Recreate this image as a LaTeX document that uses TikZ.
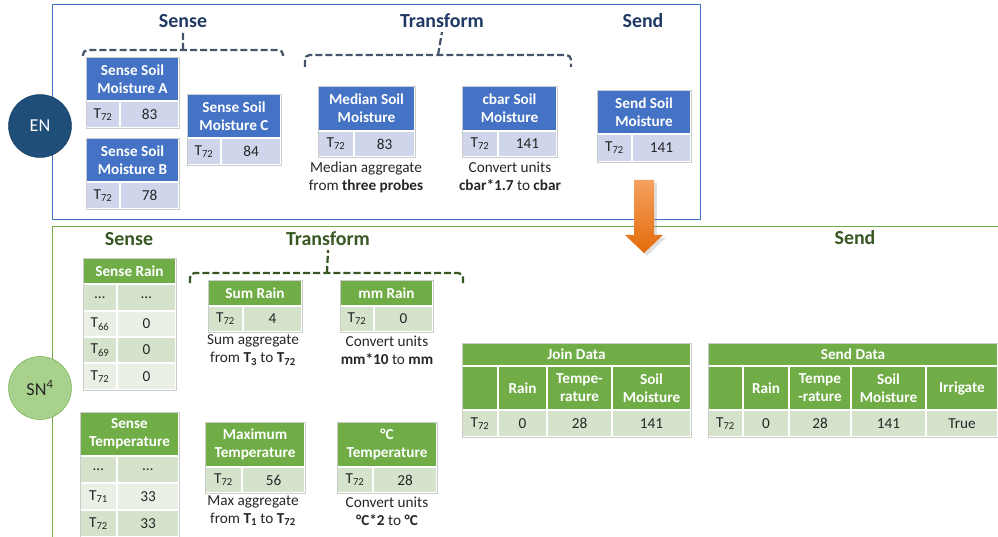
\documentclass[tikz,border=0pt]{standalone}
\usepackage{fontspec}
\setmainfont{Carlito}
\usetikzlibrary{positioning,shadows}
\definecolor{endark}{HTML}{1F4E79}
\definecolor{enframe}{HTML}{4472C4}
\definecolor{bluehead}{HTML}{4472C4}
\definecolor{bluecell}{HTML}{CFD5EA}
\definecolor{bluetitle}{HTML}{203864}
\definecolor{bluebrace}{HTML}{44546A}
\definecolor{greenhead}{HTML}{70AD47}
\definecolor{greendark}{HTML}{D5E3CC}
\definecolor{greenlight}{HTML}{EAF0E6}
\definecolor{greentitle}{HTML}{385723}
\definecolor{greenbrace}{HTML}{375623}
\definecolor{sncircle}{HTML}{A9D18E}
\definecolor{arrowtop}{HTML}{F4A05F}
\definecolor{arrowbot}{HTML}{E36C0A}
\newcommand{\pxu}{0.03cm}
\newcommand{\tcell}[7]{\node[#6, anchor=north west, minimum width={(#4-#2)*\pxu}, minimum height={(#5-#3)*\pxu}] (#1) at (#2,#3) {#7};}

\begin{document}
\begin{tikzpicture}[x=0.03cm, y=-0.03cm,
  cell/.style={rectangle, draw=white, line width=1.2pt, inner sep=0pt, outer sep=0pt, align=center, text=black!85, font=\fontsize{13}{15.4}\selectfont},
  bhead/.style={cell, fill=bluehead, text=white, font=\fontsize{13}{15.4}\selectfont\bfseries},
  bcell/.style={cell, fill=bluecell},
  ghead/.style={cell, fill=greenhead, text=white, font=\fontsize{13}{15.4}\selectfont\bfseries},
  gdark/.style={cell, fill=greendark},
  glight/.style={cell, fill=greenlight},
  tabframe/.style={draw=black!20, line width=0.6pt},
  caption/.style={align=center, text=black!85, font=\fontsize{13}{15.4}\selectfont},
  entitle/.style={text=bluetitle, font=\fontsize{17}{19}\selectfont\bfseries},
  sntitle/.style={text=greentitle, font=\fontsize{17}{19}\selectfont\bfseries},
  brace/.style={dash pattern=on 6pt off 2.6pt, line width=1.9pt, rounded corners=4pt}]

  \useasboundingbox (0,0) rectangle (998,537);

  % frames of the two nodes
  \draw[enframe, line width=0.7pt] (52,4) rectangle (700,219);
  \draw[greenhead, line width=0.7pt] (52,537) |- (998,226);

  \node[circle, draw=endark!80!black, fill=endark, minimum size=1.89cm, text=white, font=\fontsize{15.5}{17}\selectfont] (EN) at (40,126) {EN};
  \node[circle, draw=greenhead, fill=sncircle, minimum size=1.89cm, text=black!85, font=\fontsize{15.5}{17}\selectfont] (SN) at (40,388) {SN\textsuperscript{4}};

  % stage titles
  \node[entitle] (ENsense) at (183,21) {Sense};
  \node[entitle] (ENtrans) at (442,21) {Transform};
  \node[entitle] (ENsend) at (643,21) {Send};
  \node[sntitle] (SNsense) at (129,239) {Sense};
  \node[sntitle] (SNtrans) at (328,239) {Transform};
  \node[sntitle] (SNsend) at (855,238) {Send};

  % braces
  \draw[brace, bluebrace] (83,56) |- (183,50) -| (283,56) (183,50) -- (ENsense.south);
  \draw[brace, bluebrace] (305,67) |- (438,55) -| (571,67) (438,55) -- (ENtrans.south);
  \draw[brace, greenbrace] (190,283) |- (327,273) -| (463,283) (327,273) -- (SNtrans.south);

  % EN tables
  \foreach \n/\xa/\xs/\xb/\ya/\yh/\yb/\hd/\v in {
    SSA/86/120/179/57/101/128/{Sense Soil\\Moisture A}/83,
    SSB/86/120/179/138/182/209/{Sense Soil\\Moisture B}/78,
    SSC/187/221/281/94/138/165/{Sense Soil\\Moisture C}/84,
    MSM/318/354/415/86/131/157/{Median Soil\\Moisture}/83,
    CSM/462/498/557/86/131/157/{cbar Soil\\Moisture}/141,
    SSM/597/632/691/90/134/162/{Send Soil\\Moisture}/141}{
    \tcell{\n}{\xa}{\ya}{\xb}{\yh}{bhead}{\hd}
    \tcell{\n-t}{\xa}{\yh}{\xs}{\yb}{bcell}{T\textsubscript{72}}
    \tcell{\n-v}{\xs}{\yh}{\xb}{\yb}{bcell}{\v}
    \draw[tabframe] (\n.north west) rectangle (\n-v.south east);
  }

  \node[caption] (MSMcap) at (366,177) {Median aggregate\\from \textbf{three probes}};
  \node[caption] (CSMcap) at (510,176) {Convert units\\\textbf{cbar*1.7} to \textbf{cbar}};

  % SN tables
  \tcell{SRA}{83}{258}{176}{284}{ghead}{Sense Rain}
  \foreach \ya/\yb/\k/\v/\st [count=\i] in {284/311/…/…/gdark, 311/337/T\textsubscript{66}/0/glight,
    337/363/T\textsubscript{69}/0/gdark, 363/390/T\textsubscript{72}/0/glight}{
    \tcell{SRA-\i t}{83}{\ya}{117}{\yb}{\st}{\k}
    \tcell{SRA-\i v}{117}{\ya}{176}{\yb}{\st}{\v}
  }
  \draw[tabframe] (SRA.north west) rectangle (SRA-4v.south east);

  \tcell{STE}{80}{412}{179}{456}{ghead}{Sense\\Temperature}
  \foreach \ya/\yb/\k/\v/\st [count=\i] in {456/483/…/…/gdark, 483/510/T\textsubscript{71}/33/glight,
    510/537/T\textsubscript{72}/33/gdark}{
    \tcell{STE-\i t}{80}{\ya}{117}{\yb}{\st}{\k}
    \tcell{STE-\i v}{117}{\ya}{179}{\yb}{\st}{\v}
  }
  \draw[tabframe] (STE.north west) rectangle (STE-3v.south east);

  \foreach \n/\xa/\xs/\xb/\ya/\yh/\yb/\hd/\v in {
    SUR/208/243/302/280/306/332/{Sum Rain}/4,
    MMR/340/374/433/280/306/332/{mm Rain}/0,
    MXT/205/242/305/422/467/493/{Maximum\\Temperature}/56,
    DCT/337/373/437/422/467/493/{°C\\Temperature}/28}{
    \tcell{\n}{\xa}{\ya}{\xb}{\yh}{ghead}{\hd}
    \tcell{\n-t}{\xa}{\yh}{\xs}{\yb}{gdark}{T\textsubscript{72}}
    \tcell{\n-v}{\xs}{\yh}{\xb}{\yb}{gdark}{\v}
    \draw[tabframe] (\n.north west) rectangle (\n-v.south east);
  }

  \node[caption] (SURcap) at (253,350) {Sum aggregate\\from \textbf{T\textsubscript{3}} to \textbf{T\textsubscript{72}}};
  \node[caption] (MMRcap) at (387,350) {Convert units\\\textbf{mm*10} to \textbf{mm}};
  \node[caption] (MXTcap) at (253,511) {Max aggregate\\from \textbf{T\textsubscript{1}} to \textbf{T\textsubscript{72}}};
  \node[caption] (DCTcap) at (387,511) {Convert units\\\textbf{°C*2} to \textbf{°C}};

  % join and send
  \tcell{JD}{462}{343}{691}{366}{ghead}{Join Data}
  \foreach \xa/\xb/\hd/\v [count=\i] in {462/498/{}/T\textsubscript{72}, 498/547/Rain/0,
    547/612/{Tempe-\\rature}/28, 612/691/{Soil\\Moisture}/141}{
    \tcell{JD-\i h}{\xa}{366}{\xb}{410}{ghead}{\hd}
    \tcell{JD-\i v}{\xa}{410}{\xb}{437}{gdark}{\v}
  }
  \draw[tabframe] (JD.north west) rectangle (JD-4v.south east);

  \tcell{SD}{708}{343}{998}{366}{ghead}{Send Data}
  \foreach \xa/\xb/\hd/\v [count=\i] in {708/743/{}/T\textsubscript{72}, 743/789/Rain/0,
    789/851/{Tempe\\-rature}/28, 851/926/{Soil\\Moisture}/141, 926/998/Irrigate/True}{
    \tcell{SD-\i h}{\xa}{366}{\xb}{410}{ghead}{\hd}
    \tcell{SD-\i v}{\xa}{410}{\xb}{437}{gdark}{\v}
  }
  \draw[tabframe] (SD.north west) rectangle (SD-5v.south east);

  % hand over from EN to SN
  \shade[top color=arrowtop, bottom color=arrowbot, drop shadow={opacity=0.25}]
    (634,180) -- (654,180) -- (654,235) -- (663,235) -- (644,253) -- (625,235) -- (634,235) -- cycle;

\end{tikzpicture}
\end{document}
